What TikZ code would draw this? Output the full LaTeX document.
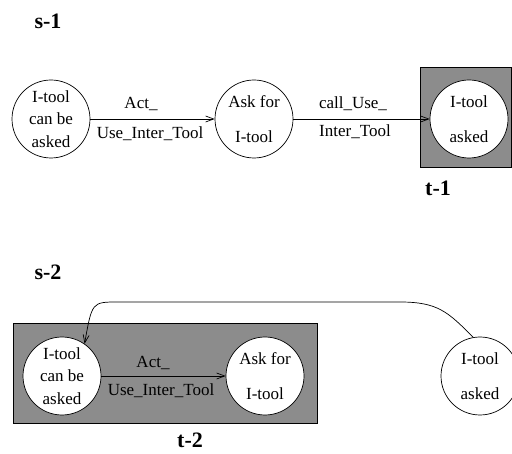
\documentclass[tikz,border=0pt]{standalone}
\usepackage{fontspec}
\setmainfont{Liberation Serif}
\usetikzlibrary{arrows.meta}
\tikzset{>={Straight Barb[length=8pt,width=6pt]}}
\definecolor{boxgray}{gray}{0.55}

\begin{document}
\begin{tikzpicture}[x=1pt, y=-1pt, text centered, line width=0.7pt]
    \tikzset{%
      sit/.style={circle, draw, fill=white, minimum size=78pt, inner sep=0pt, align=center, font=\fontsize{17}{22.5}\selectfont},
      stbox/.style={fill=boxgray, draw},
      lab/.style={font=\fontsize{17}{20}\selectfont},
      sitname/.style={font=\bfseries\fontsize{22}{26}\selectfont}
      }
    \useasboundingbox (0,0) rectangle (512,454);

    % first situation
    \node [sitname] (Ts1) at (48,21) {s-1};
    \draw [stbox] (420,67) rectangle (511,167);
    \node [sitname] (Tt1) at (438,188) {t-1};

    \node [sit] (Acan) at (51,119) {I-tool\\can be\\asked};
    \node [sit] (Aask) at (254,119) {Ask for\\[13pt]I-tool};
    \node [sit] (Aasked) at (469,119) {I-tool\\[12pt]asked};
    \draw [->] (Acan.east) -- (Aask.west);
    \node [lab] (Aact) at (141,104) {Act\_};
    \node [lab] (Ause) at (150,134) {Use\_Inter\_Tool};
    \draw [->] (Aask.east) -- (Aasked.west);
    \node [lab] (Acall) at (353,104) {call\_Use\_};
    \node [lab] (Ainter) at (355,132) {Inter\_Tool};

    % second situation
    \node [sitname] (Ts2) at (48,272) {s-2};
    \draw [stbox] (13,323) rectangle (317,423);
    \node [sitname] (Tt2) at (190,440) {t-2};

    \node [sit] (Bcan) at (62,376) {I-tool\\can be\\asked};
    \node [sit] (Bask) at (265,376) {Ask for\\[13pt]I-tool};
    \node [sit] (Basked) at (480,376) {I-tool\\[12pt]asked};
    \draw [->] (Bcan.east) -- (Bask.west);
    \node [lab] (Bact) at (153,363) {Act\_};
    \node [lab] (Buse) at (161,391) {Use\_Inter\_Tool};
    \draw [->] (Basked.100) .. controls (448,312) and (438,302) .. (400,302) -- (118,302)
      .. controls (92,302) .. (Bcan.55);

  \end{tikzpicture}
\end{document}
